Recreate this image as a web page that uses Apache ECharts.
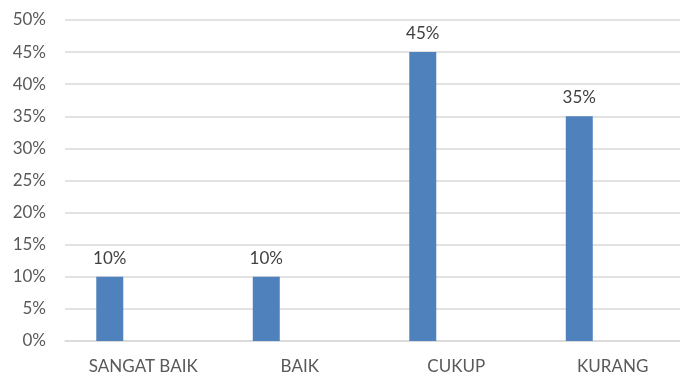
<!DOCTYPE html>
<html>
<head>
<meta charset="utf-8">
<script src="https://cdn.jsdelivr.net/npm/echarts@6/dist/echarts.min.js"></script>
<style>html,body{margin:0;padding:0;background:#fff;overflow:hidden;width:680px;height:376px}#c{width:692px;height:376px}</style>
</head>
<body>
<div id="c"></div>
<script>
const categories = ['SANGAT BAIK', 'BAIK', 'CUKUP', 'KURANG'];
const values = [10, 10, 45, 35];
const emptySeries = [null, null, null, null];
const yMin = 0, yMax = 50, yStep = 5;

const chart = echarts.init(document.getElementById('c'), null, {renderer: 'canvas'});
const font = 'Lato, Open Sans, sans-serif';
chart.setOption({
  animation: false,
  grid: {left: 65, top: 20, right: 1, height: 321, containLabel: false},
  xAxis: {
    type: 'category', data: categories,
    axisLine: {lineStyle: {color: '#d9d9d9', width: 1.5}},
    axisTick: {show: false},
    axisLabel: {color: '#595959', fontSize: 17, fontFamily: font, margin: 17}
  },
  yAxis: {
    type: 'value', min: yMin, max: yMax, interval: yStep,
    axisLine: {show: false}, axisTick: {show: false},
    splitLine: {lineStyle: {color: '#d9d9d9', width: 1.5}},
    axisLabel: {color: '#595959', fontSize: 17, fontFamily: font, margin: 19, formatter: '{value}%'}
  },
  series: [
    {type: 'bar', data: values, barWidth: 27, barGap: '148%',
     itemStyle: {color: '#4f81bd'},
     label: {show: true, position: 'top', distance: 10, color: '#404040', fontSize: 17, fontFamily: font, formatter: '{c}%'}},
    {type: 'bar', data: emptySeries, barWidth: 27, itemStyle: {color: '#c0504d'}}
  ]
});
</script>
</body>
</html>
